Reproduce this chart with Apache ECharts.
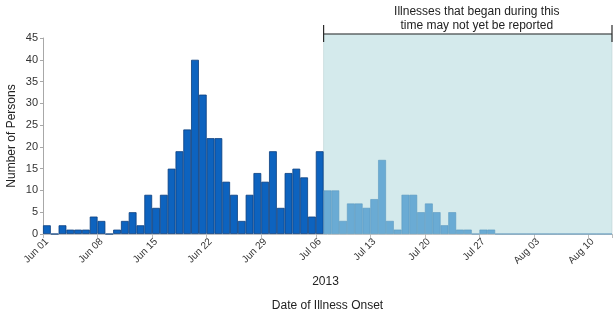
<!DOCTYPE html>
<html>
<head>
<meta charset="utf-8">
<script src="https://cdn.jsdelivr.net/npm/echarts@6/dist/echarts.min.js"></script>
<style>
  html, body { margin: 0; padding: 0; background: #fff; }
  #chart { width: 616px; height: 324px; }
</style>
</head>
<body>
<div id="chart"></div>
<script>
// Daily onset dates, 1 June – 12 August 2013
const onsetDays = [
  'Jun 01','Jun 02','Jun 03','Jun 04','Jun 05','Jun 06','Jun 07','Jun 08','Jun 09','Jun 10',
  'Jun 11','Jun 12','Jun 13','Jun 14','Jun 15','Jun 16','Jun 17','Jun 18','Jun 19','Jun 20',
  'Jun 21','Jun 22','Jun 23','Jun 24','Jun 25','Jun 26','Jun 27','Jun 28','Jun 29','Jun 30',
  'Jul 01','Jul 02','Jul 03','Jul 04','Jul 05','Jul 06','Jul 07','Jul 08','Jul 09','Jul 10',
  'Jul 11','Jul 12','Jul 13','Jul 14','Jul 15','Jul 16','Jul 17','Jul 18','Jul 19','Jul 20',
  'Jul 21','Jul 22','Jul 23','Jul 24','Jul 25','Jul 26','Jul 27','Jul 28','Jul 29','Jul 30',
  'Jul 31','Aug 01','Aug 02','Aug 03','Aug 04','Aug 05','Aug 06','Aug 07','Aug 08','Aug 09',
  'Aug 10','Aug 11','Aug 12'
];

// Cases with onset Jun 01 – Jul 06
const reportedCases = [
  2, 0, 2, 1, 1, 1, 4, 3, 0, 1,
  3, 5, 2, 9, 6, 9, 15, 19, 24, 40,
  32, 22, 22, 12, 9, 3, 9, 14, 12, 19,
  6, 14, 15, 13, 4, 19
];

// Cases with onset Jul 07 – Aug 12 (reporting may be incomplete)
const recentCases = [
  10, 10, 3, 7, 7, 6, 8, 17, 3, 1,
  9, 9, 5, 7, 5, 2, 5, 1, 1, 0,
  1, 1, 0, 0, 0, 0, 0, 0, 0, 0,
  0, 0, 0, 0, 0, 0, 0
];

const yTicks = { min: 0, max: 45, interval: 5 };
const lagStartIndex = reportedCases.length;           // first day of the reporting-lag window
const lagNote = ['Illnesses that began during this', 'time may not yet be reported'];
const yearLabel = '2013';

const darkSeries = onsetDays.map((d, i) => i < lagStartIndex ? reportedCases[i] : null);
const lightSeries = onsetDays.map((d, i) => i >= lagStartIndex ? recentCases[i - lagStartIndex] : null);

const FONT = '"Liberation Sans", Arial, sans-serif';
const chart = echarts.init(document.getElementById('chart'), null, { renderer: 'canvas' });

chart.setOption({
  animation: false,
  backgroundColor: '#ffffff',
  grid: { left: 43, right: 4, top: 38, bottom: 90, containLabel: false, outerBoundsMode: 'none' },
  xAxis: [
    {
      type: 'category',
      data: onsetDays,
      boundaryGap: true,
      axisLine: { show: true, lineStyle: { color: '#c8c8c8', width: 1 } },
      axisTick: { show: true, interval: 6, length: 4, lineStyle: { color: '#bdbdbd' } },
      axisLabel: {
        interval: 6, rotate: 45, fontSize: 10, color: '#333', fontFamily: FONT, margin: 6
      },
      name: 'Date of Illness Onset',
      nameLocation: 'middle',
      nameGap: 66,
      nameMoveOverlap: false,
      nameTextStyle: { fontSize: 12, color: '#222', fontFamily: FONT }
    },
    {
      // helper scale measured in days, used to place the lag window
      type: 'value', min: 0, max: onsetDays.length, show: false
    }
  ],
  yAxis: {
    type: 'value',
    min: yTicks.min, max: yTicks.max, interval: yTicks.interval,
    splitLine: { show: false },
    axisLine: { show: true, lineStyle: { color: '#a8a8a8' } },
    axisTick: { show: true, length: 3, lineStyle: { color: '#a8a8a8' } },
    axisLabel: { fontSize: 11, color: '#333', fontFamily: FONT, margin: 5 },
    name: 'Number of Persons',
    nameLocation: 'middle',
    nameGap: 25,
    nameMoveOverlap: false,
    nameTextStyle: { fontSize: 12, color: '#222', fontFamily: FONT }
  },
  series: [
    {
      name: 'Reported', type: 'bar', data: darkSeries,
      barGap: '-100%', barCategoryGap: 0,
      itemStyle: { color: '#0d63bf', borderColor: '#0b3f7f', borderWidth: 0.8 },
      z: 3
    },
    {
      name: 'Recent', type: 'bar', data: lightSeries,
      barGap: '-100%', barCategoryGap: 0,
      itemStyle: { color: '#6aabd4', borderColor: '#5b98c0', borderWidth: 0.6 },
      z: 3
    }
  ]
});

// Shaded reporting-lag window with its bracket and note, positioned from the axis scales
function drawLagWindow() {
  const x0 = chart.convertToPixel({ xAxisIndex: 1 }, lagStartIndex);
  const x1 = chart.convertToPixel({ xAxisIndex: 1 }, onsetDays.length);
  const yBase = chart.convertToPixel({ yAxisIndex: 0 }, 0);
  const yTop = chart.convertToPixel({ yAxisIndex: 0 }, yTicks.max) - 4;
  const xMid = (x0 + x1) / 2;
  const gridMid = (chart.convertToPixel({ xAxisIndex: 1 }, 0) + x1) / 2;
  chart.setOption({
    graphic: [
      {
        type: 'rect', z: -1, silent: true,
        shape: { x: x0, y: yTop, width: x1 - x0, height: yBase - yTop },
        style: { fill: '#d4eaec', stroke: '#bcd2d4', lineWidth: 0.6 }
      },
      {
        type: 'line', z: 5, silent: true,
        shape: { x1: x0, y1: yTop, x2: x1, y2: yTop },
        style: { stroke: '#2b2b2b', lineWidth: 1.2 }
      },
      {
        type: 'line', z: 5, silent: true,
        shape: { x1: x0, y1: yTop - 9, x2: x0, y2: yTop + 8 },
        style: { stroke: '#2b2b2b', lineWidth: 1.2 }
      },
      {
        type: 'line', z: 5, silent: true,
        shape: { x1: x1, y1: yTop - 9, x2: x1, y2: yTop + 8 },
        style: { stroke: '#2b2b2b', lineWidth: 1.2 }
      },
      {
        type: 'text', z: 5, silent: true,
        x: xMid + 9, y: yTop - 2,
        style: {
          text: lagNote.join('\n'), align: 'center', verticalAlign: 'bottom',
          fontSize: 12, lineHeight: 13.5, fill: '#222', fontFamily: FONT
        }
      },
      {
        type: 'text', z: 5, silent: true,
        x: gridMid - 2, y: yBase + 48,
        style: {
          text: yearLabel, align: 'center', verticalAlign: 'middle',
          fontSize: 12, fill: '#222', fontFamily: FONT
        }
      }
    ]
  });
}
drawLagWindow();
</script>
</body>
</html>
